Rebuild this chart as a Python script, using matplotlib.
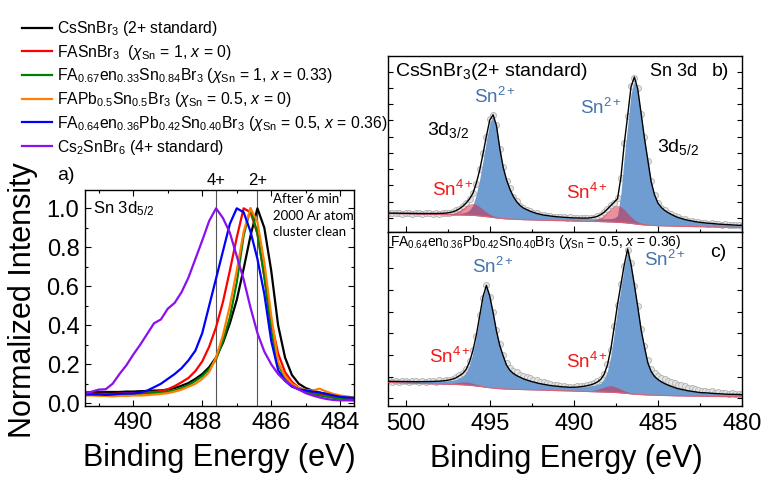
import numpy as np
import matplotlib
matplotlib.use("Agg")
import matplotlib.pyplot as plt
from matplotlib.ticker import MultipleLocator, FixedLocator, NullFormatter

plt.rcParams['font.family'] = ['Liberation Sans', 'DejaVu Sans']
plt.rcParams['mathtext.fontset'] = 'custom'
plt.rcParams['mathtext.rm'] = 'Liberation Sans'
plt.rcParams['mathtext.it'] = 'Liberation Sans:italic'
plt.rcParams['mathtext.bf'] = 'Liberation Sans:bold'
plt.rcParams['mathtext.sf'] = 'Liberation Sans'

# ---------------- Panel a: normalized Sn 3d5/2 spectra ----------------
energy_a = [491.4, 491.2, 491.0, 490.8, 490.6, 490.4, 490.2, 490.0, 489.8, 489.6,
            489.4, 489.2, 489.0, 488.8, 488.6, 488.4, 488.2, 488.0, 487.8, 487.6,
            487.4, 487.2, 487.0, 486.8, 486.6, 486.4, 486.2, 486.0, 485.8, 485.6,
            485.4, 485.2, 485.0, 484.8, 484.6, 484.4, 484.2, 484.0, 483.8, 483.6]

cssnbr3 = [.055, .057, .058, .058, .058, .058, .060, .060, .062, .063,
           .065, .066, .070, .078, .090, .104, .125, .150, .185, .235,
           .310, .410, .530, .690, .860, 1.00, .900, .680, .400, .235,
           .145, .100, .078, .065, .055, .048, .040, .032, .025, .018]
fasnbr3 = [.050, .050, .048, .048, .048, .050, .050, .052, .053, .055,
           .058, .063, .072, .088, .108, .130, .165, .215, .290, .390,
           .520, .680, .850, 1.00, .980, .870, .650, .420, .255, .160,
           .110, .080, .062, .052, .045, .040, .035, .030, .025, .022]
fa_en033 = [.045, .045, .045, .045, .045, .045, .046, .047, .048, .050,
            .053, .056, .060, .066, .078, .093, .115, .140, .175, .225,
            .320, .440, .620, .860, 1.00, .870, .650, .370, .200, .130,
            .095, .072, .058, .048, .040, .034, .028, .024, .020, .018]
fapbsn = [.040, .040, .038, .038, .036, .038, .038, .040, .040, .042,
          .045, .048, .052, .060, .070, .085, .100, .125, .160, .235,
          .350, .500, .680, .880, 1.00, .930, .720, .450, .210, .140,
          .100, .080, .068, .065, .075, .060, .048, .040, .035, .030]
fa_en036 = [.045, .045, .045, .043, .045, .048, .050, .050, .055, .065,
            .082, .100, .125, .150, .180, .220, .270, .360, .500, .640,
            .780, .920, 1.00, .980, .880, .740, .560, .320, .170, .115,
            .085, .072, .066, .060, .055, .048, .040, .033, .030, .028]
cs2snbr6 = [.048, .060, .070, .072, .100, .150, .195, .250, .300, .355,
            .410, .430, .485, .515, .570, .645, .740, .835, .935, 1.00,
            .950, .875, .755, .635, .490, .360, .265, .200, .150, .115,
            .090, .070, .052, .040, .030, .022, .017, .015, .015, .014]

labels_a = [r'CsSnBr$_3$ (2+ standard)',
            r'FASnBr$_3$  ($\chi_{\rm Sn}$ = 1, $x$ = 0)',
            r'FA$_{0.67}$en$_{0.33}$Sn$_{0.84}$Br$_3$ ($\chi_{\rm Sn}$ = 1, $x$ = 0.33)',
            r'FAPb$_{0.5}$Sn$_{0.5}$Br$_3$ ($\chi_{\rm Sn}$ = 0.5, $x$ = 0)',
            r'FA$_{0.64}$en$_{0.36}$Pb$_{0.42}$Sn$_{0.40}$Br$_3$ ($\chi_{\rm Sn}$ = 0.5, $x$ = 0.36)',
            r'Cs$_2$SnBr$_6$ (4+ standard)']
colors_a = ['#000000', '#ff0000', '#008000', '#ff8000', '#0000ff', '#8a10f0']
ref_energies = [487.6, 486.4]
ref_labels = ['4+', '2+']

# ---------------- Panels b, c: Sn 3d fits ----------------
energy_bc = [501.0, 500.8, 500.6, 500.4, 500.2, 500.0, 499.8, 499.6, 499.4, 499.2,
             499.0, 498.8, 498.6, 498.4, 498.2, 498.0, 497.8, 497.6, 497.4, 497.2,
             497.0, 496.8, 496.6, 496.4, 496.2, 496.0, 495.8, 495.6, 495.4, 495.2,
             495.0, 494.8, 494.6, 494.4, 494.2, 494.0, 493.8, 493.6, 493.4, 493.2,
             493.0, 492.8, 492.6, 492.4, 492.2, 492.0, 491.8, 491.6, 491.4, 491.2,
             491.0, 490.8, 490.6, 490.4, 490.2, 490.0, 489.8, 489.6, 489.4, 489.2,
             489.0, 488.8, 488.6, 488.4, 488.2, 488.0, 487.8, 487.6, 487.4, 487.2,
             487.0, 486.8, 486.6, 486.4, 486.2, 486.0, 485.8, 485.6, 485.4, 485.2,
             485.0, 484.8, 484.6, 484.4, 484.2, 484.0, 483.8, 483.6, 483.4, 483.2,
             483.0, 482.8, 482.6, 482.4, 482.2, 482.0, 481.8, 481.6, 481.4, 481.2,
             481.0, 480.8, 480.6, 480.4, 480.2, 480.0]

# b) CsSnBr3
bg_b = [18.5, 18.4, 18.4, 18.3, 18.2, 18.2, 18.1, 18.0, 18.0, 17.9,
        17.8, 17.8, 17.7, 17.6, 17.6, 17.5, 17.4, 17.4, 17.3, 17.2,
        17.1, 17.1, 17.0, 16.9, 16.8, 16.6, 16.4, 16.1, 15.8, 15.4,
        15.0, 14.5, 14.1, 13.7, 13.4, 13.1, 12.9, 12.8, 12.6, 12.5,
        12.3, 12.2, 12.1, 12.0, 11.9, 11.8, 11.7, 11.7, 11.6, 11.5,
        11.4, 11.4, 11.3, 11.2, 11.1, 11.0, 11.0, 10.9, 10.8, 10.7,
        10.6, 10.5, 10.5, 10.4, 10.3, 10.2, 10.1, 9.9, 9.7, 9.5,
        9.3, 9.0, 8.6, 8.2, 7.8, 7.4, 7.1, 6.9, 6.7, 6.5,
        6.3, 6.2, 6.1, 6.0, 5.9, 5.8, 5.7, 5.7, 5.6, 5.5,
        5.5, 5.4, 5.3, 5.3, 5.2, 5.1, 5.1, 5.0, 4.9, 4.9,
        4.8, 4.8, 4.7, 4.7, 4.6, 4.6]
sn2_b = [0.4, 0.5, 0.5, 0.5, 0.5, 0.5, 0.6, 0.6, 0.6, 0.6,
         0.7, 0.7, 0.8, 0.8, 0.8, 0.9, 1.0, 1.0, 1.1, 1.2,
         1.4, 1.6, 2.0, 3.0, 5.1, 10.1, 21.2, 36.4, 55.6, 75.8,
         93.9, 101.0, 91.3, 69.1, 50.9, 38.8, 29.8, 22.7, 17.7, 14.1,
         11.7, 10.2, 8.7, 7.6, 6.6, 5.9, 5.2, 4.8, 4.4, 4.1,
         3.8, 3.6, 3.4, 3.3, 3.2, 3.0, 3.0, 2.9, 2.9, 2.8,
         2.8, 2.8, 2.8, 2.9, 2.9, 3.1, 3.3, 4.1, 6.6, 29.3,
         66.1, 97.4, 130.0, 142.7, 132.8, 110.0, 85.9, 64.6, 43.3, 30.5,
         22.6, 18.4, 15.5, 13.4, 11.7, 10.1, 8.8, 7.8, 6.9, 6.2,
         5.6, 5.0, 4.6, 4.2, 3.9, 3.6, 3.5, 3.2, 3.0, 2.8,
         2.7, 2.5, 2.4, 2.2, 2.1, 2.1]
sn4_b = [0, 0, 0, 0, 0, 0, 0, 0, 0, 0,
         0, 0, 0, 0.1, 0.1, 0.2, 0.3, 0.5, 1.0, 1.7,
         2.9, 4.6, 6.8, 9.2, 11.2, 12.0, 11.2, 9.2, 6.8, 4.6,
         2.9, 1.7, 1.0, 0.5, 0.3, 0.2, 0.1, 0.1, 0, 0,
         0, 0, 0, 0, 0, 0, 0, 0, 0, 0,
         0, 0, 0, 0, 0, 0, 0.1, 0.1, 0.2, 0.4,
         0.8, 1.4, 2.4, 4.1, 6.5, 9.7, 13.1, 15.8, 17.0, 15.8,
         13.1, 9.7, 6.5, 4.1, 2.4, 1.4, 0.8, 0.4, 0.2, 0.1,
         0.1, 0, 0, 0, 0, 0, 0, 0, 0, 0,
         0, 0, 0, 0, 0, 0, 0, 0, 0, 0,
         0, 0, 0, 0, 0, 0]
data_b = [19.3, 18.6, 19.2, 18.9, 18.4, 19.0, 18.9, 18.3, 18.8, 18.7,
          18.2, 18.8, 18.6, 18.3, 18.9, 18.4, 18.9, 19.2, 19.1, 20.4,
          21.8, 23.0, 26.3, 29.5, 32.6, 39.4, 48.0, 62.5, 78.9, 95.0,
          112.6, 116.5, 107.2, 82.5, 65.3, 51.4, 43.5, 35.0, 30.8, 26.2,
          24.5, 22.0, 21.2, 19.3, 18.8, 17.4, 17.2, 16.2, 16.3, 15.4,
          15.5, 14.8, 14.9, 14.3, 14.6, 13.8, 14.3, 13.7, 14.2, 13.8,
          14.5, 14.5, 16.0, 17.2, 20.0, 22.7, 26.9, 29.5, 33.8, 54.0,
          89.2, 115.5, 145.8, 154.3, 143.6, 118.2, 94.5, 71.3, 50.8, 36.6,
          29.4, 24.2, 21.9, 19.1, 17.9, 15.6, 14.8, 13.2, 12.8, 11.4,
          11.3, 10.1, 10.2, 9.3, 9.4, 8.5, 8.8, 8.0, 8.2, 7.5,
          7.7, 7.1, 7.3, 6.8, 6.9, 6.5]

# c) FA0.64en0.36Pb0.42Sn0.40Br3
bg_c = [23.5, 23.4, 23.3, 23.2, 23.1, 23.0, 22.9, 22.8, 22.7, 22.6,
        22.5, 22.4, 22.3, 22.2, 22.1, 22.0, 21.9, 21.8, 21.7, 21.6,
        21.5, 21.4, 21.2, 21.0, 20.7, 20.4, 20.0, 19.6, 19.2, 18.7,
        18.3, 17.9, 17.6, 17.3, 17.1, 16.9, 16.8, 16.7, 16.6, 16.5,
        16.4, 16.3, 16.2, 16.1, 16.0, 15.9, 15.8, 15.7, 15.6, 15.5,
        15.4, 15.3, 15.2, 15.1, 15.0, 14.9, 14.8, 14.7, 14.6, 14.5,
        14.4, 14.3, 14.2, 14.1, 14.0, 13.9, 13.8, 13.6, 13.4, 13.1,
        12.8, 12.5, 12.2, 11.9, 11.6, 11.4, 11.2, 11.0, 10.9, 10.8,
        10.7, 10.6, 10.5, 10.4, 10.3, 10.2, 10.1, 10.1, 10.0, 9.9,
        9.9, 9.8, 9.8, 9.7, 9.7, 9.6, 9.6, 9.5, 9.5, 9.4,
        9.4, 9.3, 9.3, 9.3, 9.3, 9.2]
sn2_c = [1.2, 1.2, 1.3, 1.3, 1.4, 1.5, 1.5, 1.6, 1.6, 1.7,
         1.9, 2.0, 2.2, 2.3, 2.5, 2.7, 3.0, 3.3, 3.7, 4.2,
         5.0, 6.6, 8.6, 12.6, 20.7, 32.8, 49.0, 69.2, 89.4, 101.5,
         91.5, 75.3, 57.2, 43.0, 32.9, 23.9, 18.9, 15.9, 13.8, 12.3,
         10.8, 9.7, 8.7, 7.9, 7.1, 6.4, 5.9, 5.4, 4.9, 4.6,
         4.4, 4.1, 3.9, 3.8, 3.7, 3.8, 4.0, 4.4, 4.8, 5.4,
         5.8, 6.4, 7.3, 8.8, 12.6, 21.1, 36.6, 59.3, 83.4, 104.7,
         126.0, 142.9, 128.7, 108.8, 87.5, 64.8, 47.8, 32.1, 23.6, 18.7,
         15.8, 13.6, 11.9, 10.5, 9.3, 8.2, 7.2, 6.5, 5.9, 5.3,
         4.8, 4.4, 3.9, 3.6, 3.5, 3.4, 3.1, 3.0, 2.8, 2.7,
         2.5, 2.4, 2.4, 2.3, 2.3, 2.1]
sn4_c = [0, 0, 0, 0, 0, 0, 0, 0, 0, 0,
         0, 0, 0, 0, 0.1, 0.1, 0.2, 0.4, 0.7, 1.1,
         1.7, 2.3, 2.8, 3.0, 2.8, 2.3, 1.7, 1.1, 0.7, 0.4,
         0.2, 0.1, 0.1, 0, 0, 0, 0, 0, 0, 0,
         0, 0, 0, 0, 0, 0, 0, 0, 0, 0,
         0, 0, 0, 0, 0, 0.1, 0.1, 0.2, 0.3, 0.5,
         0.9, 1.6, 2.5, 3.7, 5.0, 6.0, 6.5, 6.0, 5.0, 3.7,
         2.5, 1.6, 0.9, 0.5, 0.3, 0.2, 0.1, 0.1, 0, 0,
         0, 0, 0, 0, 0, 0, 0, 0, 0, 0,
         0, 0, 0, 0, 0, 0, 0, 0, 0, 0,
         0, 0, 0, 0, 0, 0]
data_c = [25.8, 24.2, 25.5, 24.0, 25.1, 24.9, 23.8, 25.2, 24.6, 24.0,
          25.3, 24.1, 25.0, 24.8, 24.3, 25.6, 25.0, 26.1, 26.4, 27.5,
          28.6, 31.2, 33.0, 37.5, 44.8, 56.2, 70.0, 90.8, 108.4, 121.3,
          109.2, 94.5, 75.8, 61.8, 51.5, 43.2, 38.0, 35.1, 33.6, 31.5,
          30.4, 28.7, 27.9, 26.3, 25.6, 24.3, 23.9, 22.6, 22.1, 21.0,
          20.6, 19.8, 20.2, 19.3, 19.5, 18.8, 19.7, 19.9, 20.3, 21.4,
          21.8, 23.4, 24.6, 27.5, 32.4, 41.8, 56.0, 79.6, 101.0, 122.3,
          140.5, 156.2, 142.6, 120.4, 100.3, 77.5, 60.4, 45.6, 37.0, 32.8,
          30.5, 28.3, 27.4, 25.2, 24.4, 22.8, 21.5, 20.9, 19.6, 18.3,
          17.8, 16.9, 16.4, 15.2, 15.5, 14.3, 14.6, 13.5, 13.9, 12.8,
          13.1, 12.4, 12.6, 12.0, 12.3, 11.8]

BLUE_FILL = '#6f9dd2'
RED_FILL = '#d8203c'
BLUE_TXT = '#4573ad'
RED_TXT = '#f01818'

W, H = 780, 486
fig = plt.figure(figsize=(W / 100, H / 100), dpi=100)


def box(l, t, r, b):
    return [l / W, 1 - b / H, (r - l) / W, (b - t) / H]


ax_a = fig.add_axes(box(85, 190, 354, 406))
ax_b = fig.add_axes(box(388, 56, 742, 232))
ax_c = fig.add_axes(box(388, 232, 742, 406))

# ---- panel a ----
series_a = [cssnbr3, fasnbr3, fa_en033, fapbsn, fa_en036, cs2snbr6]
handles = []
for s, c, lab in zip(series_a, colors_a, labels_a):
    h, = ax_a.plot(energy_a, s, color=c, lw=1.6, label=lab, solid_joinstyle='round')
    handles.append(h)
for e, t in zip(ref_energies, ref_labels):
    ax_a.axvline(e, color='#555555', lw=0.8, zorder=0)
    ax_a.text(e, 1.045, t, transform=ax_a.get_xaxis_transform(), ha='center',
              va='center', fontsize=12)
ax_a.set_xlim(491.4, 483.6)
ax_a.set_ylim(-0.014, 1.094)
ax_a.xaxis.set_major_locator(MultipleLocator(2))
ax_a.xaxis.set_minor_locator(MultipleLocator(1))
ax_a.yaxis.set_major_locator(MultipleLocator(0.2))
ax_a.yaxis.set_minor_locator(MultipleLocator(0.1))
ax_a.tick_params(which='both', direction='in', top=True, right=True, width=0.8,
                 labelsize=17)
ax_a.tick_params(which='major', length=4.5, pad=4)
ax_a.tick_params(which='minor', length=2.5)
ax_a.text(0.03, 0.915, r'Sn 3d$_{5/2}$', transform=ax_a.transAxes, fontsize=12,
          va='center')
ax_a.text(0.70, 0.985, 'After 6 min\n2000 Ar atom\ncluster clean',
          transform=ax_a.transAxes, fontsize=9.5, family=['Lato', 'DejaVu Sans'],
          va='top', ha='left', linespacing=1.45)

fig.legend(handles, labels_a, loc='upper left', bbox_to_anchor=(22 / W, 1 - 19 / H),
           frameon=False, fontsize=11.3, handlelength=1.9, handletextpad=0.3,
           labelspacing=0.3, borderpad=0, borderaxespad=0)

fig.text(66 / W, 1 - 175 / H, 'a)', ha='center', va='center', fontsize=14)
fig.text(23 / W, 1 - 300 / H, 'Normalized Intensity', rotation=90, ha='center',
         va='center', fontsize=22)
fig.text(219 / W, 1 - 458 / H, 'Binding Energy (eV)', ha='center', va='center',
         fontsize=22)
fig.text(566 / W, 1 - 459 / H, 'Binding Energy (eV)', ha='center', va='center',
         fontsize=22)


# ---- panels b, c ----
def fit_panel(ax, bg, sn2, sn4, data, ymax, yticks):
    x = np.array(energy_bc)
    bg = np.array(bg)
    sn2 = np.array(sn2)
    sn4 = np.array(sn4)
    env = bg + sn2 + sn4
    ax.plot(x, data, 'o', ms=4.3, mfc='#e4e4e4', mec='#b0b0b0', mew=0.6, zorder=1)
    ax.fill_between(x, bg, bg + sn2, color=BLUE_FILL, lw=0, zorder=2)
    ax.fill_between(x, bg, bg + sn4, color=RED_FILL, alpha=0.5, lw=0, zorder=3)
    ax.plot(x, bg, color='#e06070', lw=0.8, zorder=4)
    ax.plot(x, env, color='black', lw=1.0, zorder=5)
    ax.set_xlim(501.05, 480)
    ax.set_ylim(0, ymax)
    ax.xaxis.set_major_locator(MultipleLocator(5))
    ax.xaxis.set_minor_locator(MultipleLocator(2.5))
    ax.yaxis.set_major_locator(FixedLocator(yticks))
    ax.yaxis.set_major_formatter(NullFormatter())
    ax.tick_params(which='both', direction='in', top=False, right=True, width=0.8,
                   labelsize=17)
    ax.tick_params(which='major', length=4.5, pad=5)
    ax.tick_params(which='minor', length=2.5)
    ax.tick_params(axis='y', which='major', length=3.5)


fit_panel(ax_b, bg_b, sn2_b, sn4_b, data_b, 176, list(np.arange(14.05, 170, 16.25)))
fit_panel(ax_c, bg_c, sn2_c, sn4_c, data_c, 174, list(np.arange(7.7, 170, 21.67)))
ax_b.xaxis.set_major_formatter(NullFormatter())

ax_b.text(0.02, 0.91, r'CsSnBr$_3$(2+ standard)', transform=ax_b.transAxes,
          fontsize=14, va='center')
ax_b.text(0.74, 0.91, 'Sn 3d', transform=ax_b.transAxes, fontsize=13, va='center')
ax_b.text(0.915, 0.91, 'b)', transform=ax_b.transAxes, fontsize=14, va='center')
ax_b.text(494.7, 135, r'Sn$^{2+}$', color=BLUE_TXT, fontsize=13.5, ha='center', va='center')
ax_b.text(488.4, 124, r'Sn$^{2+}$', color=BLUE_TXT, fontsize=13.5, ha='center', va='center')
ax_b.text(497.5, 102, r'3d$_{3/2}$', color='black', fontsize=14, ha='center', va='center')
ax_b.text(483.8, 85, r'3d$_{5/2}$', color='black', fontsize=14, ha='center', va='center')
ax_b.text(497.2, 42, r'Sn$^{4+}$', color=RED_TXT, fontsize=13.5, ha='center', va='center')
ax_b.text(489.2, 39, r'Sn$^{4+}$', color=RED_TXT, fontsize=13.5, ha='center', va='center')

ax_c.text(0.006, 0.944,
          r'FA$_{0.64}$en$_{0.36}$Pb$_{0.42}$Sn$_{0.40}$Br$_3$ ($\chi_{\rm Sn}$ = 0.5, $x$ = 0.36)',
          transform=ax_c.transAxes, fontsize=10, va='center')
ax_c.text(0.91, 0.885, 'c)', transform=ax_c.transAxes, fontsize=14, va='center')
ax_c.text(494.8, 139, r'Sn$^{2+}$', color=BLUE_TXT, fontsize=13.5, ha='center', va='center')
ax_c.text(484.6, 146, r'Sn$^{2+}$', color=BLUE_TXT, fontsize=13.5, ha='center', va='center')
ax_c.text(497.4, 49, r'Sn$^{4+}$', color=RED_TXT, fontsize=13.5, ha='center', va='center')
ax_c.text(489.2, 44, r'Sn$^{4+}$', color=RED_TXT, fontsize=13.5, ha='center', va='center')

for ax in (ax_a, ax_b, ax_c):
    for sp in ax.spines.values():
        sp.set_linewidth(1.0)

fig.savefig('out.png', dpi=100)
